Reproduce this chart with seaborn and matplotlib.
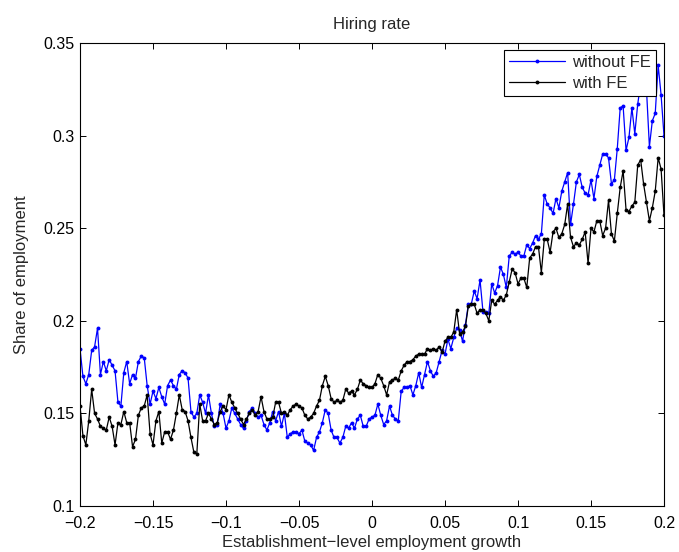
import numpy as np
import pandas as pd
import matplotlib
matplotlib.use("Agg")
import matplotlib.pyplot as plt
import seaborn as sns

# Establishment-level employment growth bins (width 0.002)
growth_bins = np.round(np.arange(-100, 101) * 0.002, 3)

# Hiring rate (share of employment) by growth bin
hiring_without_fe = [
    0.185, 0.170, 0.166, 0.171, 0.184, 0.186, 0.196, 0.171, 0.178, 0.173,
    0.179, 0.176, 0.173, 0.156, 0.154, 0.172, 0.178, 0.166, 0.171, 0.169,
    0.178, 0.181, 0.180, 0.165, 0.155, 0.162, 0.158, 0.164, 0.159, 0.155,
    0.165, 0.168, 0.165, 0.163, 0.171, 0.173, 0.172, 0.169, 0.151, 0.148,
    0.150, 0.160, 0.156, 0.150, 0.160, 0.150, 0.143, 0.144, 0.155, 0.150,
    0.142, 0.146, 0.153, 0.150, 0.147, 0.144, 0.142, 0.146, 0.151, 0.153,
    0.150, 0.148, 0.149, 0.144, 0.141, 0.145, 0.151, 0.146, 0.151, 0.143,
    0.150, 0.137, 0.139, 0.140, 0.140, 0.139, 0.141, 0.135, 0.134, 0.133,
    0.130, 0.137, 0.140, 0.145, 0.152, 0.150, 0.141, 0.137, 0.137, 0.134,
    0.137, 0.143, 0.142, 0.145, 0.142, 0.147, 0.149, 0.143, 0.143, 0.147,
    0.148, 0.149, 0.155, 0.149, 0.144, 0.146, 0.154, 0.149, 0.147, 0.146,
    0.162, 0.164, 0.164, 0.165, 0.160, 0.165, 0.172, 0.164, 0.171, 0.178,
    0.173, 0.170, 0.172, 0.178, 0.184, 0.182, 0.190, 0.185, 0.191, 0.196,
    0.195, 0.189, 0.198, 0.209, 0.209, 0.216, 0.212, 0.222, 0.205, 0.205,
    0.204, 0.220, 0.215, 0.219, 0.229, 0.225, 0.218, 0.235, 0.237, 0.236,
    0.237, 0.235, 0.235, 0.241, 0.239, 0.242, 0.246, 0.244, 0.247, 0.268,
    0.263, 0.261, 0.258, 0.266, 0.261, 0.270, 0.275, 0.280, 0.252, 0.263,
    0.275, 0.279, 0.272, 0.269, 0.268, 0.276, 0.266, 0.278, 0.284, 0.290,
    0.290, 0.288, 0.274, 0.276, 0.293, 0.315, 0.316, 0.292, 0.299, 0.315,
    0.301, 0.317, 0.328, 0.326, 0.325, 0.294, 0.308, 0.312, 0.338, 0.322,
    0.300,
]

hiring_with_fe = [
    0.154, 0.138, 0.133, 0.146, 0.163, 0.150, 0.147, 0.143, 0.142, 0.141,
    0.148, 0.143, 0.133, 0.145, 0.144, 0.151, 0.145, 0.145, 0.132, 0.136,
    0.149, 0.153, 0.154, 0.160, 0.139, 0.133, 0.146, 0.151, 0.134, 0.140,
    0.140, 0.136, 0.141, 0.150, 0.160, 0.152, 0.151, 0.146, 0.137, 0.129,
    0.128, 0.155, 0.146, 0.146, 0.150, 0.147, 0.144, 0.145, 0.151, 0.154,
    0.152, 0.160, 0.156, 0.153, 0.150, 0.147, 0.144, 0.147, 0.150, 0.152,
    0.149, 0.151, 0.159, 0.151, 0.147, 0.147, 0.148, 0.156, 0.156, 0.150,
    0.151, 0.149, 0.152, 0.154, 0.155, 0.154, 0.153, 0.149, 0.147, 0.148,
    0.150, 0.154, 0.157, 0.165, 0.170, 0.165, 0.158, 0.156, 0.157, 0.156,
    0.157, 0.163, 0.161, 0.162, 0.160, 0.163, 0.168, 0.166, 0.165, 0.164,
    0.164, 0.166, 0.171, 0.169, 0.165, 0.160, 0.167, 0.168, 0.169, 0.168,
    0.173, 0.176, 0.178, 0.178, 0.179, 0.181, 0.182, 0.182, 0.182, 0.185,
    0.184, 0.185, 0.184, 0.186, 0.183, 0.189, 0.191, 0.191, 0.194, 0.206,
    0.193, 0.194, 0.197, 0.208, 0.209, 0.209, 0.204, 0.206, 0.206, 0.204,
    0.200, 0.211, 0.209, 0.211, 0.213, 0.211, 0.214, 0.221, 0.228, 0.226,
    0.220, 0.223, 0.223, 0.218, 0.234, 0.236, 0.240, 0.240, 0.226, 0.244,
    0.244, 0.237, 0.248, 0.250, 0.245, 0.247, 0.252, 0.263, 0.245, 0.240,
    0.242, 0.241, 0.244, 0.248, 0.231, 0.250, 0.248, 0.254, 0.254, 0.246,
    0.250, 0.265, 0.247, 0.243, 0.258, 0.272, 0.281, 0.260, 0.259, 0.262,
    0.264, 0.284, 0.287, 0.274, 0.264, 0.254, 0.261, 0.270, 0.288, 0.282,
    0.257,
]

series_names = ["without FE", "with FE"]
series_colors = {"without FE": "#0000ff", "with FE": "#000000"}

x_ticks = [-0.2, -0.15, -0.1, -0.05, 0.0, 0.05, 0.1, 0.15, 0.2]
x_tick_labels = ["\u22120.2", "\u22120.15", "\u22120.1", "\u22120.05", "0",
                 "0.05", "0.1", "0.15", "0.2"]
y_ticks = [0.1, 0.15, 0.2, 0.25, 0.3, 0.35]
y_tick_labels = ["0.1", "0.15", "0.2", "0.25", "0.3", "0.35"]

sns.set_style("ticks")
plt.rcParams["font.family"] = ["Liberation Sans", "DejaVu Sans"]

df = pd.concat([
    pd.DataFrame({"growth": growth_bins, "rate": hiring_without_fe,
                  "series": series_names[0]}),
    pd.DataFrame({"growth": growth_bins, "rate": hiring_with_fe,
                  "series": series_names[1]}),
], ignore_index=True)

W, H = 679, 552
fig = plt.figure(figsize=(W / 100, H / 100), dpi=100)
ax = fig.add_axes([80 / W, 46 / H, 584 / W, 463 / H])

sns.lineplot(data=df, x="growth", y="rate", hue="series",
             hue_order=series_names, palette=series_colors,
             estimator=None, sort=False, marker="o", markersize=2.8,
             markeredgewidth=0, linewidth=0.9, ax=ax)

ax.set_xlim(-0.2, 0.2)
ax.set_ylim(0.1, 0.35)
ax.set_xticks(x_ticks)
ax.set_xticklabels(x_tick_labels)
ax.set_yticks(y_ticks)
ax.set_yticklabels(y_tick_labels)
ax.tick_params(direction="in", length=4, width=0.7, top=True, right=True,
               labelsize=11.5, colors="black")
ax.tick_params(axis="x", pad=7.5)
ax.tick_params(axis="y", pad=4)
for s in ax.spines.values():
    s.set_visible(True)
    s.set_linewidth(0.8)
    s.set_color("black")

ax.set_title("Hiring rate", fontsize=12, pad=10)
ax.set_xlabel("Establishment\u2212level employment growth", fontsize=12, labelpad=2.5)
ax.set_ylabel("Share of employment", fontsize=12, labelpad=10)

handles, labels = ax.get_legend_handles_labels()
leg = ax.legend(handles, labels, loc="upper right",
                bbox_to_anchor=(1 - 8 / 584, 1 - 7 / 463), borderaxespad=0,
                fontsize=12, frameon=True, fancybox=False, framealpha=1,
                edgecolor="black", handlelength=3.4, handletextpad=0.4,
                borderpad=0.3, labelspacing=0.35)
leg.get_frame().set_linewidth(0.8)

fig.savefig("out.png", dpi=100, facecolor="white")
